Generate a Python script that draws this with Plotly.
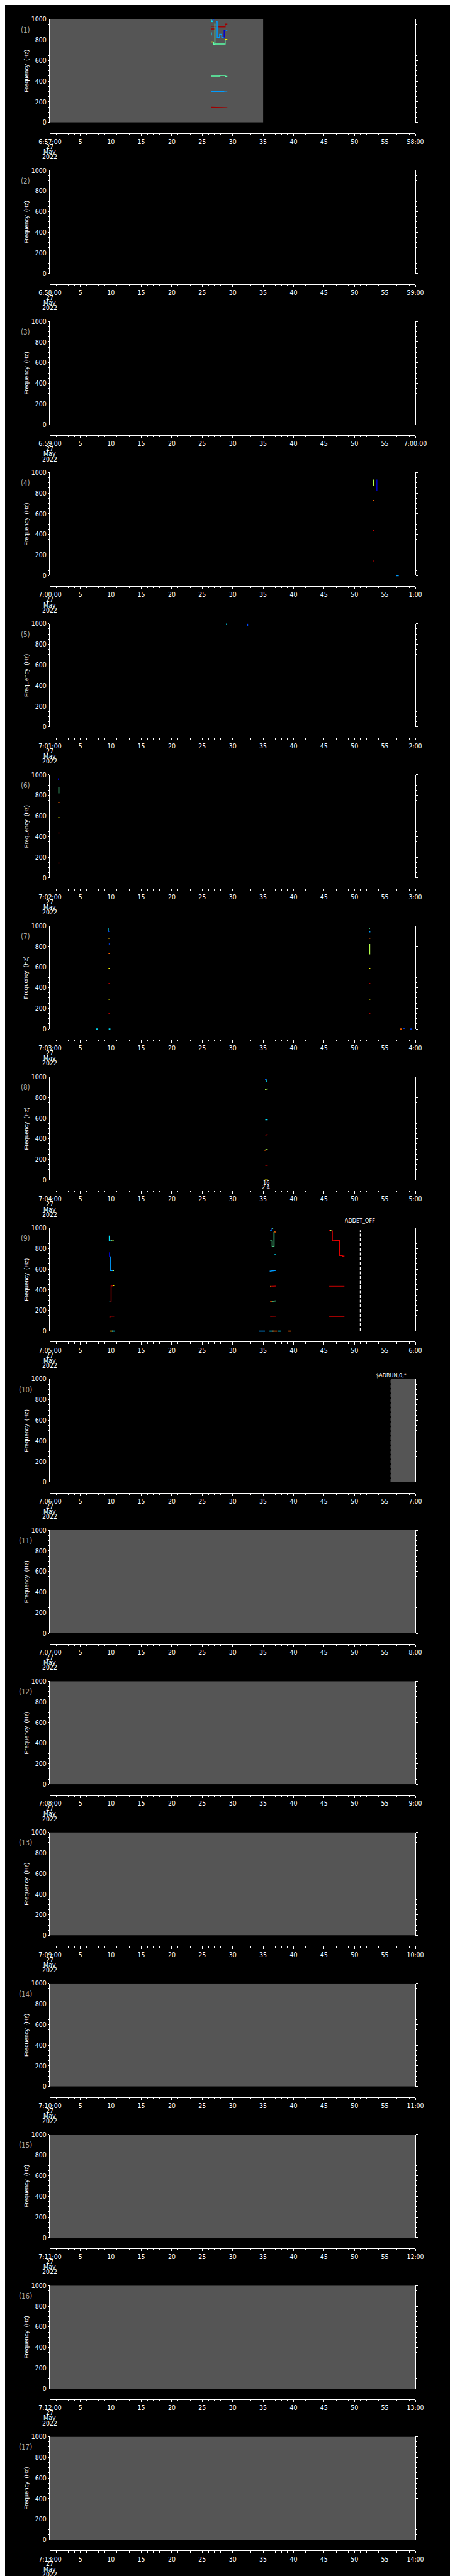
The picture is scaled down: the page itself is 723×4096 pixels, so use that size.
import plotly.graph_objects as go

# ---------------- geometry of the reference (pixels of the 1024 x 5802 original) -------------
W, H = 723, 4096
REF_W, REF_H = 1024.0, 5802.0
N_PANELS = 17
PITCH = REF_H / N_PANELS
PLOT_L, PLOT_R = 79.7, 945.0
PLOT_T, PLOT_B = 23.7, 256.7
AXIS_Y = 280.7

# ---------------- data ----------------
START_LABELS = ["6:57:00", "6:58:00", "6:59:00", "7:00:00", "7:01:00", "7:02:00", "7:03:00",
                "7:04:00", "7:05:00", "7:06:00", "7:07:00", "7:08:00", "7:09:00", "7:10:00",
                "7:11:00", "7:12:00", "7:13:00"]
END_LABELS = ["58:00", "59:00", "7:00:00", "1:00", "2:00", "3:00", "4:00", "5:00", "6:00",
              "7:00", "8:00", "9:00", "10:00", "11:00", "12:00", "13:00", "14:00"]
DATE_LINES = ["27", "May", "2022"]
SEC_TICKS = list(range(0, 61, 5))
FREQ_TICKS = [0, 200, 400, 600, 800, 1000]

# gray data-coverage intervals: (panel, t_start, t_end)
COVERAGE = [(1, 0, 35), (10, 56, 60), (11, 0, 60), (12, 0, 60), (13, 0, 60),
            (14, 0, 60), (15, 0, 60), (16, 0, 60), (17, 0, 60)]

DKRED, RED, ORANGE, GOLD, YELLOW = "#a00000", "#e00000", "#ff6400", "#ffc000", "#f4f400"
YGREEN, LGREEN, CYAN, LBLUE, BLUE, DKBLUE = "#b4ff4c", "#5cffa8", "#00e4ff", "#009cff", "#0048ff", "#0000d0"

# traces: (color, seconds, frequency Hz)
P1_TRACES = [
    (DKRED, [26.49, 27.76, 27.76, 28.76, 28.76, 29.12], [933, 933, 926, 926, 954, 954]),
    (DKRED, [26.49, 27.08], [907, 907]),
    (CYAN, [26.45, 26.6, 26.75], [998, 975, 988]),
    (BLUE, [26.75, 26.9], [988, 1000]),
    (YELLOW, [26.49, 26.86], [781, 781]),
    (LGREEN, [26.86, 26.86, 27.08, 27.08], [781, 758, 758, 958]),
    (LBLUE, [27.3, 27.45, 27.45, 27.85, 27.85, 28.2, 28.2, 28.6], [976, 976, 823, 823, 855, 855, 823, 823]),
    (DKBLUE, [28.6, 28.6, 28.85], [823, 894, 894]),
    (LBLUE, [28.85, 29.12], [894, 894]),
    (LGREEN, [27.08, 28.76, 28.76], [760, 760, 804]),
    (YELLOW, [28.76, 29.12], [804, 804]),
    (CYAN, [26.49, 26.49], [873, 844]),
    (LGREEN, [26.49, 27.9, 27.9, 28.76, 28.76, 29.12], [449, 449, 455, 455, 447, 447]),
    (LBLUE, [26.49, 28.55, 28.55, 29.12], [302, 302, 295, 295]),
    (DKRED, [26.49, 28.76, 28.76, 29.12], [147, 147, 143, 143]),
]
P4_TRACES = [
    (YGREEN, [53.15, 53.15, 53.25], [933, 877, 877]),
    (DKBLUE, [53.68, 53.68], [933, 825]),
    (ORANGE, [53.08, 53.25], [730, 730]),
    (RED, [53.08, 53.25], [439, 439]),
    (DKRED, [53.08, 53.25], [143, 143]),
]
P5_TRACES = [
    (CYAN, [28.9, 29.1], [997, 997]),
    (BLUE, [32.45, 32.45], [999, 976]),
]
P6_TRACES = [
    (DKBLUE, [1.38, 1.38], [966, 944]),
    (LGREEN, [1.45, 1.45], [880, 820]),
    (ORANGE, [1.35, 1.55], [730, 730]),
    (YELLOW, [1.35, 1.55], [584, 584]),
    (DKRED, [1.35, 1.55], [435, 435]),
    (DKRED, [1.35, 1.55], [143, 143]),
]
P7_TRACES = [
    (CYAN, [9.55, 9.55], [976, 950]),
    (BLUE, [9.55, 9.7, 9.7], [950, 945, 941]),
    (GOLD, [9.55, 9.85], [880, 880]),
    (BLUE, [9.65, 9.8], [823, 823]),
    (ORANGE, [9.6, 9.85], [730, 730]),
    (YELLOW, [9.6, 9.85], [587, 587]),
    (RED, [9.6, 9.85], [439, 439]),
    (YELLOW, [9.6, 9.85], [289, 289]),
    (RED, [9.6, 9.85], [147, 147]),
    (LGREEN, [52.45, 52.55], [976, 976]),
    (LBLUE, [52.45, 52.6], [941, 941]),
    (ORANGE, [52.45, 52.6], [880, 880]),
    (YGREEN, [52.5, 52.5, 52.4], [823, 727, 727]),
    (YELLOW, [52.45, 52.6], [587, 587]),
    (RED, [52.45, 52.6], [439, 439]),
    (YELLOW, [52.45, 52.6], [289, 289]),
    (RED, [52.45, 52.6], [147, 147]),
]
P8_TRACES = [
    (BLUE, [35.3, 35.5], [976, 976]),
    (CYAN, [35.5, 35.5, 35.6], [976, 951, 951]),
    (YGREEN, [35.3, 35.55, 35.55, 35.75], [879, 879, 883, 883]),
    (CYAN, [35.35, 35.75], [584, 584]),
    (RED, [35.35, 35.6, 35.6, 35.75], [436, 436, 440, 440]),
    (ORANGE, [35.2, 35.45], [290, 290]),
    (YGREEN, [35.45, 35.45, 35.75], [290, 294, 294]),
    (DKRED, [35.35, 35.75], [143, 143]),
]
P9_TRACES = [
    (CYAN, [9.73, 9.73, 10.07, 10.07], [926, 874, 874, 883]),
    (YGREEN, [10.07, 10.49], [883, 883]),
    (DKBLUE, [9.68, 9.75, 9.75, 9.89], [760, 760, 724, 724]),
    (LBLUE, [9.89, 9.89, 10.3], [724, 587, 587]),
    (YGREEN, [10.3, 10.49], [587, 587]),
    (CYAN, [9.75, 9.9], [290, 290]),
    (DKRED, [9.9, 10.03, 10.03, 10.31, 10.31], [290, 290, 438, 438, 441]),
    (YELLOW, [10.31, 10.54], [441, 441]),
    (DKRED, [9.75, 9.85, 9.85, 10.54], [137, 137, 145, 145]),
    (CYAN, [36.15, 36.3], [973, 973]),
    (BLUE, [36.3, 36.45, 36.45], [973, 973, 998]),
    (LGREEN, [36.45, 36.65], [998, 998]),
    (LGREEN, [36.15, 36.49, 36.49, 36.79, 36.79], [874, 874, 821, 821, 963]),
    (ORANGE, [36.79, 37.16], [962, 960]),
    (CYAN, [36.79, 37.09], [740, 742]),
    (LBLUE, [36.08, 36.5, 36.5, 37.09], [581, 584, 586, 589]),
    (ORANGE, [36.15, 36.35], [433, 433]),
    (DKRED, [36.35, 36.7, 36.7, 37.16], [433, 433, 437, 437]),
    (ORANGE, [36.15, 36.45], [290, 290]),
    (LGREEN, [36.45, 36.79, 36.79, 37.09], [290, 290, 293, 293]),
    (DKRED, [36.15, 37.16], [143, 145]),
    (RED, [45.8, 46.05], [981, 976]),
    (YGREEN, [46.05, 46.2], [976, 973]),
    (RED, [46.2, 46.36, 46.36, 47.54, 47.54, 48.0, 48.0, 48.35], [971, 971, 876, 878, 734, 734, 728, 728]),
    (DKRED, [45.85, 46.36, 46.36, 48.0, 48.0, 48.35], [433, 433, 436, 436, 433, 433]),
    (DKRED, [45.85, 46.36, 46.36, 48.0, 48.0, 48.35], [142, 142, 145, 145, 142, 142]),
]
PANEL_TRACES = {1: P1_TRACES, 4: P4_TRACES, 5: P5_TRACES, 6: P6_TRACES,
                7: P7_TRACES, 8: P8_TRACES, 9: P9_TRACES}

# marks drawn beyond the plot edge (not clipped): (panel, color, t0, t1, f0, f1)
EDGE_MARKS = [
    (4, LBLUE, 56.9, 57.2, 0, 0),
    (5, DKBLUE, 61.4, 61.4, 944, 966), (5, LGREEN, 61.45, 61.45, 820, 880),
    (5, ORANGE, 61.35, 61.5, 730, 730), (5, YELLOW, 61.35, 61.5, 582, 582),
    (5, RED, 61.35, 61.5, 439, 439), (5, DKRED, 61.35, 61.5, 143, 143),
    (7, CYAN, 7.65, 7.8, 0, 0), (7, CYAN, 9.7, 9.85, 0, 0), (7, ORANGE, 57.55, 57.75, 0, 0),
    (7, BLUE, 58.05, 58.2, 7, 7), (7, BLUE, 59.25, 59.4, 0, 0), (7, YELLOW, 60.15, 60.35, 0, 0),
    (7, CYAN, 60.35, 60.6, 0, 0),
    (8, YELLOW, 35.35, 35.7, 0, 0),
    (9, GOLD, 9.95, 10.25, 0, 0), (9, CYAN, 10.25, 10.54, 0, 0),
    (9, LBLUE, 34.5, 35.15, 0, 0), (9, CYAN, 36.15, 36.6, 0, 0), (9, ORANGE, 36.6, 37.16, 0, 0),
    (9, CYAN, 37.53, 37.81, 0, 0), (9, ORANGE, 39.2, 39.47, 0, 0),
]

# event markers: (panel, t, f_top, label, label offset from panel top in ref px)
EVENTS = [(9, 50.95, 977, "ADDET_OFF", 6.7), (10, 56.0, 1000, "$ADRUN,0,*", 15.0)]
# small value labels under panel 8
P8_NOTES = [(8, 35.5, "16", 264.0), (8, 35.5, "2.4", 273.5)]

# ---------------- styling ----------------
NARROW = "Liberation Sans Narrow, DejaVu Sans Condensed, Arial Narrow, sans-serif"
PLAIN = "Liberation Sans, Arial, sans-serif"
S = W / REF_W
PLOT_H_PX = (PLOT_B - PLOT_T) * H / REF_H
PLOT_W_PX = (PLOT_R - PLOT_L) * S


def yfrac(ypix):
    return 1 - ypix / REF_H


def ax_names(n):
    return ("x" if n == 1 else f"x{n}", "y" if n == 1 else f"y{n}")


fig = go.Figure()
layout = dict(width=W, height=H, margin=dict(l=0, r=0, t=0, b=0),
              paper_bgcolor="black", plot_bgcolor="black", showlegend=False,
              shapes=[], annotations=[])

for k in range(N_PANELS):
    n = k + 1
    xr, yr = ax_names(n)
    top = k * PITCH + PLOT_T
    bot = k * PITCH + PLOT_B
    # placeholder so that every subplot (also the empty ones) gets its axes drawn
    fig.add_trace(go.Scatter(x=[None], y=[None], mode="lines", xaxis=xr, yaxis=yr,
                             hoverinfo="skip"))
    ticktext = [START_LABELS[k]] + [str(v) for v in SEC_TICKS[1:-1]] + [END_LABELS[k]]
    layout["xaxis" if n == 1 else f"xaxis{n}"] = dict(
        domain=[PLOT_L / REF_W, PLOT_R / REF_W], range=[0, 60], anchor="free",
        position=yfrac(k * PITCH + AXIS_Y), showline=True, linecolor="white", linewidth=1,
        ticks="outside", ticklen=3.6, tickwidth=1, tickcolor="white",
        tickmode="array", tickvals=SEC_TICKS, ticktext=ticktext,
        tickfont=dict(family=NARROW, size=10.5, color="white"),
        minor=dict(tickmode="array", tickvals=list(range(61)), ticks="outside",
                   ticklen=2.2, tickwidth=1, tickcolor="white", showgrid=False),
        showgrid=False, zeroline=False, fixedrange=True)
    layout["yaxis" if n == 1 else f"yaxis{n}"] = dict(
        domain=[yfrac(bot), yfrac(top)], range=[0, 1000], anchor=xr,
        showline=True, mirror="ticks", linecolor="white", linewidth=1,
        ticks="outside", ticklen=2.6, tickwidth=1, tickcolor="white",
        tickmode="array", tickvals=FREQ_TICKS,
        tickfont=dict(family=NARROW, size=10.5, color="white"),
        minor=dict(tickmode="array", tickvals=list(range(0, 1001, 50)), ticks="outside",
                   ticklen=2.0, tickwidth=1, tickcolor="white", showgrid=False),
        showgrid=False, zeroline=False, fixedrange=True)

    # panel number, y title, date lines
    layout["annotations"].append(dict(
        text=f"({n})", x=20.9 / REF_W, y=yfrac(k * PITCH + 47.7), xref="paper", yref="paper",
        showarrow=False, xanchor="center", yanchor="middle",
        font=dict(family=NARROW, size=11.5, color="#a8a8a8")))
    layout["annotations"].append(dict(
        text="Frequency  (Hz)", x=23.0 / REF_W, y=yfrac(k * PITCH + 140.0), xref="paper",
        yref="paper", showarrow=False, textangle=-90, xanchor="center", yanchor="middle",
        font=dict(family=PLAIN, size=9.5, color="white")))
    for i, line in enumerate(DATE_LINES):
        layout["annotations"].append(dict(
            text=line, x=PLOT_L / REF_W, y=yfrac(k * PITCH + 310.7 + 11.6 * i), xref="paper",
            yref="paper", showarrow=False, xanchor="center", yanchor="middle",
            font=dict(family=NARROW, size=10.5, color="white")))

# gray coverage
for n, t0, t1 in COVERAGE:
    xr, yr = ax_names(n)
    layout["shapes"].append(dict(type="rect", xref=xr, yref=yr, x0=t0, x1=t1, y0=0, y1=1000,
                                 fillcolor="#555555", line=dict(width=0), layer="below"))

# spectral line traces
for n, traces in PANEL_TRACES.items():
    xr, yr = ax_names(n)
    for color, ts, fs in traces:
        fig.add_trace(go.Scatter(x=ts, y=fs, mode="lines", xaxis=xr, yaxis=yr,
                                 line=dict(color=color, width=1.5), hoverinfo="skip"))

# marks at/over the plot edges (markers are not clipped)
for n, color, t0, t1, f0, f1 in EDGE_MARKS:
    xr, yr = ax_names(n)
    if f0 == f1:
        size = max(2.0, (t1 - t0) / 60.0 * PLOT_W_PX)
        sym = "line-ew"
    else:
        size = max(2.0, (f1 - f0) / 1000.0 * PLOT_H_PX)
        sym = "line-ns"
    fig.add_trace(go.Scatter(x=[(t0 + t1) / 2], y=[(f0 + f1) / 2], mode="markers",
                             xaxis=xr, yaxis=yr, cliponaxis=False, hoverinfo="skip",
                             marker=dict(symbol=sym, size=size,
                                         line=dict(color=color, width=1.6))))

# event markers
for n, t, ftop, label, dy in EVENTS:
    xr, yr = ax_names(n)
    fig.add_trace(go.Scatter(x=[t, t], y=[0, ftop], mode="lines", xaxis=xr, yaxis=yr,
                             hoverinfo="skip",
                             line=dict(color="white", width=1.3 if n == 9 else 0.8,
                                       dash="5px,2.5px")))
    layout["annotations"].append(dict(
        text=label, x=t, y=yfrac((n - 1) * PITCH + dy), xref=xr, yref="paper",
        showarrow=False, xanchor="center", yanchor="middle",
        font=dict(family=NARROW, size=9, color="white")))

for n, t, label, dy in P8_NOTES:
    xr, yr = ax_names(n)
    layout["annotations"].append(dict(
        text=label, x=t, y=yfrac((n - 1) * PITCH + dy), xref=xr, yref="paper",
        showarrow=False, xanchor="center", yanchor="middle",
        font=dict(family=NARROW, size=9, color="white")))

fig.update_layout(**layout)
fig.write_html("out.html")
